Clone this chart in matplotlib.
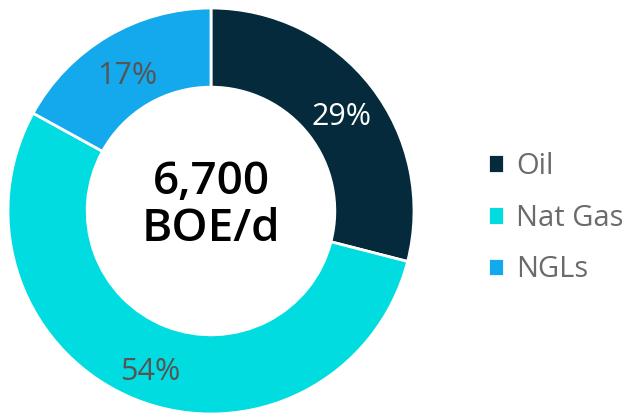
import numpy as np
import matplotlib.pyplot as plt

labels = ["Oil", "Nat Gas", "NGLs"]
shares = [29, 54, 17]
colors = ["#042a3b", "#00dce0", "#14a8ec"]
pct_colors = ["white", "#555555", "#555555"]
center_text = "6,700\nBOE/d"

plt.rcParams["font.family"] = ["Open Sans", "DejaVu Sans"]

fig = plt.figure(figsize=(6.31, 4.13), dpi=100)
ax = fig.add_axes([8 / 631, -1 / 413, 406 / 631, 406 / 413])

wedges, texts = ax.pie(shares, colors=colors, startangle=90, counterclock=False,
                       radius=1, wedgeprops=dict(width=0.39, edgecolor="white", linewidth=2))

# percentage labels in the middle of the ring (a bit below the mid line)
for w, s, c in zip(wedges, shares, pct_colors):
    ang = np.deg2rad((w.theta1 + w.theta2) / 2)
    r = 0.815
    ax.text(r * np.cos(ang), r * np.sin(ang) - 0.035, f"{s}%", ha="center", va="center",
            fontsize=22, color=c)

ax.text(0, 0.025, center_text, ha="center", va="center", fontsize=33,
        fontweight="semibold", color="black", linespacing=1.05)
ax.set_xlim(-1, 1)
ax.set_ylim(-1, 1)
ax.set_aspect("equal")

fig.legend(wedges, labels, loc="center left", bbox_to_anchor=(462 / 631, 0.472),
           frameon=False, prop=dict(size=21, weight="medium"), labelcolor="#6b6b6b",
           handlelength=0.55, handleheight=0.6, handletextpad=0.4, labelspacing=0.78)

fig.savefig("out.png", dpi=100)
